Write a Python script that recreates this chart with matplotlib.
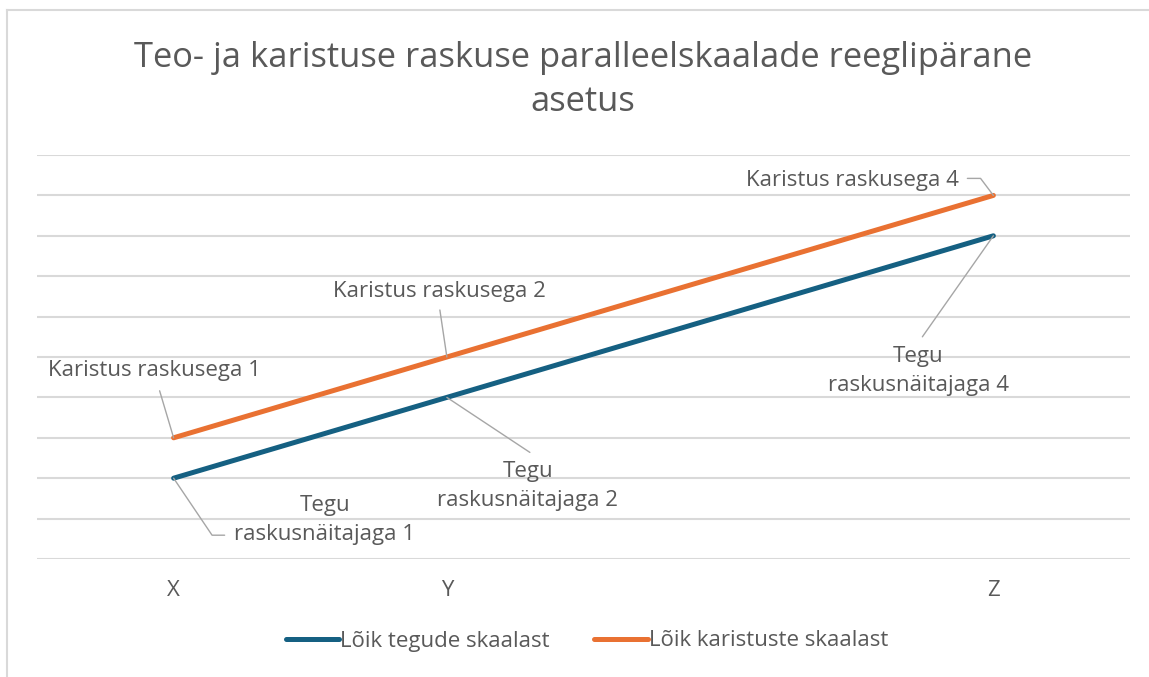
import matplotlib
matplotlib.use('agg')
import matplotlib.pyplot as plt
from matplotlib.lines import Line2D

# data
categories = ['X', 'Y', 'Z']
x_pos = [1, 2, 4]
tegude = [2, 4, 8]
karistuste = [3, 5, 9]
series_names = ['Lõik tegude skaalast', 'Lõik karistuste skaalast']
karistus_labels = ['Karistus raskusega 1', 'Karistus raskusega 2', 'Karistus raskusega 4']
tegu_labels = ['Tegu\nraskusnäitajaga 1', 'Tegu\nraskusnäitajaga 2', 'Tegu\nraskusnäitajaga 4']
title = 'Teo- ja karistuse raskuse paralleelskaalade reeglipärane\nasetus'

BLUE = '#156082'
ORANGE = '#E97132'
TXT = '#595959'
GRID = '#D9D9D9'
LEAD = '#A6A6A6'
FS = 16

plt.rcParams['font.family'] = ['Open Sans', 'DejaVu Sans']

W, H = 1149, 677
fig = plt.figure(figsize=(W / 100, H / 100), dpi=100)
ax = fig.add_axes([37 / W, (H - 559) / H, (1130 - 37) / W, (559 - 155) / H])

ax.plot(x_pos, tegude, color=BLUE, lw=3.6, solid_capstyle='round', label=series_names[0], zorder=3)
ax.plot(x_pos, karistuste, color=ORANGE, lw=3.6, solid_capstyle='round', label=series_names[1], zorder=3)

ax.set_xlim(0.5, 4.5)
ax.set_ylim(0, 10)
ax.set_yticks(range(0, 11))
ax.yaxis.grid(True, color=GRID, lw=1.5)
ax.set_axisbelow(True)
ax.tick_params(axis='y', left=False, labelleft=False)
ax.set_xticks(x_pos)
ax.set_xticklabels(categories)
ax.tick_params(axis='x', length=0, pad=15, labelsize=FS, labelcolor=TXT)
for s in ax.spines.values():
    s.set_visible(False)

# label offsets in pixels (text centre, leader start, leader connection)
k_text = [(-19, 67), (-7, 65), (-141, 15)]
k_lead = [(-14, 47), (-7, 47), (-26, 17)]
k_conn = ['arc3', 'arc3', 'angle,angleA=0,angleB=127,rad=0']
t_text = [(151, -42), (81, -89), (-75, -135)]
t_lead = [(51, -57), (83, -55), (-71, -101)]
t_conn = ['angle,angleA=0,angleB=-56,rad=0', 'arc3', 'arc3']

for i in range(3):
    ax.annotate(karistus_labels[i], xy=(x_pos[i], karistuste[i]), xytext=k_text[i],
                textcoords='offset pixels', ha='center', va='center', fontsize=FS, color=TXT)
    ax.annotate('', xy=(x_pos[i], karistuste[i]), xytext=k_lead[i], textcoords='offset pixels',
                arrowprops=dict(arrowstyle='-', color=LEAD, lw=1, shrinkA=0, shrinkB=0,
                                connectionstyle=k_conn[i]))
    ax.annotate(tegu_labels[i], xy=(x_pos[i], tegude[i]), xytext=t_text[i],
                textcoords='offset pixels', ha='center', va='center', fontsize=FS, color=TXT,
                linespacing=1.5, multialignment='center')
    ax.annotate('', xy=(x_pos[i], tegude[i]), xytext=t_lead[i], textcoords='offset pixels',
                arrowprops=dict(arrowstyle='-', color=LEAD, lw=1, shrinkA=0, shrinkB=0,
                                connectionstyle=t_conn[i]))

fig.text(583 / W, 1 - 80 / H, title, ha='center', va='center', fontsize=24.8, color=TXT,
         linespacing=1.35)

fig.legend(loc='center', bbox_to_anchor=(587 / W, 1 - 641 / H), ncol=2, frameon=False,
           fontsize=FS, labelcolor=TXT, handlelength=2.4, handletextpad=0.05, columnspacing=2.0)

# chart area border (top and left visible)
fig.add_artist(Line2D([7 / W, 7 / W], [0, 1 - 10 / H], color=GRID, lw=1.5))
fig.add_artist(Line2D([7 / W, 1], [1 - 10 / H, 1 - 10 / H], color=GRID, lw=1.5))

fig.savefig('out.png', dpi=100)
